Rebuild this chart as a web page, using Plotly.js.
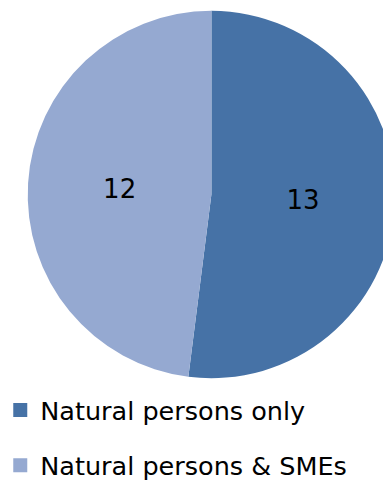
<!DOCTYPE html>
<html>
<head>
<meta charset="utf-8">
<script src="https://cdn.plot.ly/plotly-3.0.1.min.js"></script>
<style>
  html, body { margin: 0; padding: 0; overflow: hidden; background: #fff; }
  #chart { width: 400px; height: 500px; }
</style>
</head>
<body>
<div id="chart"></div>
<script>
// Categories, counts and slice colours
const categories = ["Natural persons only", "Natural persons & SMEs"];
const counts = [13, 12];
const colors = ["#4672A6", "#95A9D1"];

const FONT = "DejaVu Sans, Verdana, sans-serif";

// The pie itself (its own legend entries are replaced by the
// square-marker entries below so the rows can be spaced apart).
const pieTrace = {
  type: "pie",
  labels: categories,
  values: counts,
  marker: { colors: colors, line: { width: 0 } },
  sort: false,
  direction: "clockwise",
  rotation: 0,
  textinfo: "value",
  textposition: "inside",
  insidetextorientation: "horizontal",
  textfont: { family: FONT, size: 26, color: "#000" },
  hoverinfo: "label+value",
  showlegend: false,
  domain: { x: [23 / 400, 395 / 400], y: [120 / 500, 491 / 500] }
};

// Legend entries: one empty scatter trace per category
const legendTraces = categories.map((name, i) => ({
  type: "scatter",
  mode: "markers",
  x: [null],
  y: [null],
  name: name,
  legendgroup: "g" + i,
  marker: { symbol: "square", size: 14, color: colors[i] },
  hoverinfo: "skip"
}));

const layout = {
  width: 400,
  height: 500,
  margin: { l: 0, r: 0, t: 0, b: 0 },
  paper_bgcolor: "#fff",
  plot_bgcolor: "#fff",
  font: { family: FONT, color: "#000" },
  xaxis: { visible: false },
  yaxis: { visible: false },
  showlegend: true,
  legend: {
    x: -0.012,
    xanchor: "left",
    y: 0.226,
    yanchor: "top",
    orientation: "v",
    traceorder: "grouped",
    tracegroupgap: 19,
    font: { family: FONT, size: 25.5, color: "#000" },
    bgcolor: "rgba(0,0,0,0)"
  }
};

Plotly.newPlot("chart", [pieTrace, ...legendTraces], layout, { displayModeBar: false, staticPlot: true });
</script>
</body>
</html>
